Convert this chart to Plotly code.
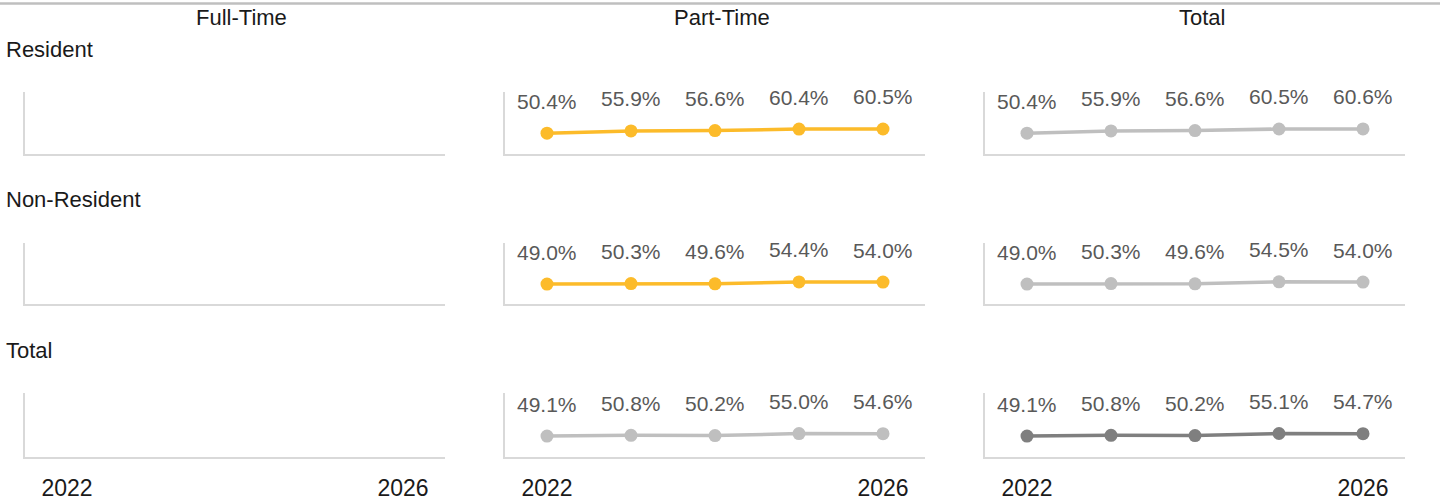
"""
Enrollment share sparklines: rows are residency, columns are attendance status.
"""

import plotly.graph_objects as go
from plotly.subplots import make_subplots

# ── Data ────────────────────────────────────────────────────────────────────
YEARS = [2022, 2023, 2024, 2025, 2026]
COLUMNS = ["Full-Time", "Part-Time", "Total"]
ROWS = ["Resident", "Non-Resident", "Total"]

part_time_resident = [50.4, 55.9, 56.6, 60.4, 60.5]
part_time_nonresident = [49.0, 50.3, 49.6, 54.4, 54.0]
part_time_total = [49.1, 50.8, 50.2, 55.0, 54.6]

total_resident = [50.4, 55.9, 56.6, 60.5, 60.6]
total_nonresident = [49.0, 50.3, 49.6, 54.5, 54.0]
total_total = [49.1, 50.8, 50.2, 55.1, 54.7]

# ── Colours ─────────────────────────────────────────────────────────────────
YELLOW = "#FCBB2A"
LIGHT_GREY = "#BFBFBF"
DARK_GREY = "#7F7F7F"
AXIS_GREY = "#D9D9D9"
LABEL_GREY = "#595959"
FONT = "Liberation Sans, Arial, sans-serif"

# (row, col) -> (values, colour); Full-Time column has no data
series = {
    (1, 2): (part_time_resident, YELLOW),
    (2, 2): (part_time_nonresident, YELLOW),
    (3, 2): (part_time_total, LIGHT_GREY),
    (1, 3): (total_resident, LIGHT_GREY),
    (2, 3): (total_nonresident, LIGHT_GREY),
    (3, 3): (total_total, DARK_GREY),
}

W, H = 1448, 504
col_px = [(25, 445), (505, 925), (985, 1405)]
row_px = [(92, 154), (243, 304), (393, 457)]

fig = make_subplots(rows=3, cols=3)

# empty traces so the Full-Time panels still get their axes drawn
for r in range(1, 4):
    fig.add_trace(
        go.Scatter(x=[], y=[], showlegend=False, hoverinfo="skip"), row=r, col=1
    )

for (r, c), (vals, colour) in series.items():
    fig.add_trace(
        go.Scatter(
            x=YEARS,
            y=vals,
            mode="lines+markers",
            line=dict(color=colour, width=3.5),
            marker=dict(color=colour, size=13),
            showlegend=False,
            hoverinfo="skip",
        ),
        row=r,
        col=c,
    )
    for yr, v in zip(YEARS, vals):
        fig.add_annotation(
            x=yr,
            y=v,
            text=f"{v:.1f}%",
            showarrow=False,
            yshift=32,
            font=dict(family=FONT, size=21, color=LABEL_GREY),
            row=r,
            col=c,
        )

for r in range(1, 4):
    for c in range(1, 4):
        x0, x1 = col_px[c - 1]
        y0, y1 = row_px[r - 1]
        fig.update_xaxes(
            domain=[x0 / W, x1 / W],
            range=[2021.5, 2026.5],
            tickvals=[2022, 2026],
            showticklabels=(r == 3),
            ticks="",
            ticklabelstandoff=9,
            tickfont=dict(family=FONT, size=23, color="#1A1A1A"),
            showgrid=False,
            zeroline=False,
            showline=True,
            linecolor=AXIS_GREY,
            linewidth=2,
            row=r,
            col=c,
        )
        fig.update_yaxes(
            domain=[1 - y1 / H, 1 - y0 / H],
            range=[0, 150],
            showticklabels=False,
            ticks="",
            showgrid=False,
            zeroline=False,
            showline=True,
            linecolor=AXIS_GREY,
            linewidth=2,
            row=r,
            col=c,
        )

# column headers
for (x0, x1), name in zip(col_px, COLUMNS):
    fig.add_annotation(
        x=((x0 + x1) / 2 + 7) / W,
        y=1 - 18 / H,
        xref="paper",
        yref="paper",
        xanchor="center",
        yanchor="middle",
        text=name,
        showarrow=False,
        font=dict(family=FONT, size=22, color="#1A1A1A"),
    )

# row headers
for y_px, name in zip([50, 200, 350], ROWS):
    fig.add_annotation(
        x=4 / W,
        y=1 - y_px / H,
        xref="paper",
        yref="paper",
        xanchor="left",
        yanchor="middle",
        text=name,
        showarrow=False,
        font=dict(family=FONT, size=22, color="#1A1A1A"),
    )

# thin rule across the top
fig.add_shape(
    type="line",
    xref="paper",
    yref="paper",
    x0=0,
    x1=1440 / W,
    y0=1 - 3.5 / H,
    y1=1 - 3.5 / H,
    line=dict(color=LIGHT_GREY, width=2.5),
)

fig.update_layout(
    width=W,
    height=H,
    margin=dict(l=0, r=0, t=0, b=0),
    paper_bgcolor="white",
    plot_bgcolor="white",
    font=dict(family=FONT),
)

# drop the browser's default body margin so the figure sits at the page corner
fig.write_html(
    "out.html",
    config={"displayModeBar": False},
    post_script="document.body.style.margin = '0';",
)
